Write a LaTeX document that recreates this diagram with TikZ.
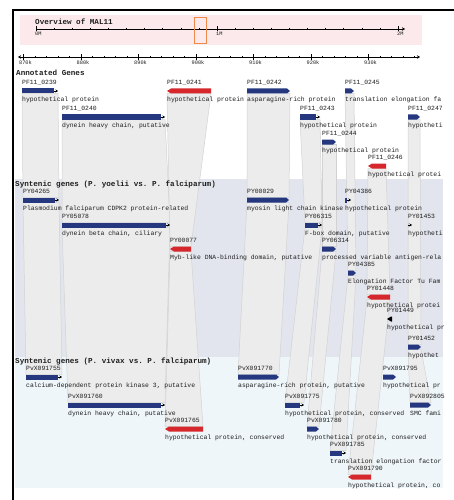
\documentclass[tikz,border=0pt]{standalone}
\usepackage{fontspec}
\setmonofont{Liberation Mono}
\usepackage{tikz}
\usetikzlibrary{arrows.meta}
\definecolor{GeneBlue}{HTML}{25387F}
\definecolor{GeneRed}{HTML}{D6282C}
\definecolor{OvPink}{HTML}{FBE9EC}
\definecolor{OvBox}{HTML}{F08A4B}
\definecolor{PyBack}{HTML}{E3E5EE}
\definecolor{PvBack}{HTML}{EFF6F9}
\definecolor{BandFill}{HTML}{ECECEC}
\definecolor{BandLine}{HTML}{D2D2D2}
\definecolor{TxtDark}{HTML}{1E1E1E}

\pgfdeclarelayer{back}
\pgfdeclarelayer{bands}
\pgfsetlayers{back,bands,main}

\newcommand\idfont{\fontsize{6.4}{7}\selectfont\ttfamily}
\newcommand\headfont{\fontsize{7.6}{8}\selectfont\ttfamily\bfseries}
\newcommand\tickfont{\fontsize{5.3}{6}\selectfont\ttfamily}

\tikzset{
  genebox/.style={inner sep=0pt,outer sep=0pt,minimum height=5pt,anchor=west},
  geneid/.style={font=\idfont,text=TxtDark,inner sep=0pt},
  genedesc/.style={font=\idfont,text=TxtDark,inner sep=0pt},
  heading/.style={font=\headfont,text=TxtDark,inner sep=0pt,anchor=west},
  ticklbl/.style={font=\tickfont,text=TxtDark,inner sep=0pt},
  band/.style={fill=BandFill,draw=BandLine,line width=.5pt},
}

% id above the bar, description below
\newcommand\genetext[3]{%
  \node[geneid,anchor=base west] (#1-id) at ([yshift=3.9pt]#1.north west) {#2};
  \node[genedesc,anchor=base west] (#1-desc) at ([yshift=-8pt]#1.south west) {#3};}
% plus strand, small black arrow past the bar
\newcommand\fwdgene[6]{%
  \node[genebox,minimum width={#3-#2}] (#1) at (#2,#4) {};
  \fill[GeneBlue] (#1.north west) rectangle ([xshift=-4pt]#1.south east);
  \draw[line width=.6pt,-{Stealth[length=2.5pt,width=3pt]}] ([xshift=-4.5pt]#1.east) -- (#1.east);
  \genetext{#1}{#5}{#6}}
% plus strand, pointed bar
\newcommand\tipgene[6]{%
  \node[genebox,minimum width={#3-#2}] (#1) at (#2,#4) {};
  \fill[GeneBlue] (#1.north west) -- ([xshift=-3pt]#1.north east) -- (#1.east)
    -- ([xshift=-3pt]#1.south east) -- (#1.south west) -- cycle;
  \genetext{#1}{#5}{#6}}
% minus strand
\newcommand\revgene[7][GeneRed]{%
  \node[genebox,minimum width={#4-#3}] (#2) at (#3,#5) {};
  \fill[#1] (#2.west) -- ([xshift=4pt]#2.north west) -- (#2.north east)
    -- (#2.south east) -- ([xshift=4pt]#2.south west) -- cycle;
  \genetext{#2}{#6}{#7}}

\begin{document}
\begin{tikzpicture}[x=1pt,y=-1pt]
\path[use as bounding box] (0,0) rectangle (454,500);

\begin{pgfonlayer}{back}
\fill[OvPink] (20,15) rectangle (422,45);
\fill[PyBack] (15,179) rectangle (443,357);
\fill[PvBack] (15,357) rectangle (443,488);
\end{pgfonlayer}

% overview of the chromosome
\node[heading] (ovtitle) at (35,22) {Overview of MAL11};
\draw[line width=.6pt,-{Stealth[length=3pt,width=3.5pt]}] (36,29) -- (405,29);
\foreach \i in {0,...,20}
  \draw[line width=.5pt] (36+\i*18.1,27.8) -- ++(0,2.4);
\foreach \i/\t in {0/0M,10/1M,20/2M} {
  \draw[line width=.6pt] (36+\i*18.1,26.5) -- ++(0,5);
  \node[ticklbl,anchor=north west] (ov\t) at (35+\i*18.1,31.8) {\t};
}
\node[draw=OvBox,line width=.8pt,inner sep=0pt,minimum width=12pt,minimum height=26pt] (view) at (200,30) {};

% detail ruler
\draw[line width=.6pt,{Stealth[length=3pt,width=3.5pt]}-{Stealth[length=3pt,width=3.5pt]}] (18,57) -- (420,57);
\foreach \k in {0,...,34}
  \draw[line width=.5pt] (23.5+\k*11.5,55.8) -- ++(0,2.4);
\foreach \k in {870,880,...,930} {
  \draw[line width=.6pt] (23.5+\k*5.75-5002.5,54) -- ++(0,6);
  \node[ticklbl,anchor=north] (kb\k) at (25.5+\k*5.75-5002.5,60.5) {\k k};
}

% tracks
\node[heading] (annot) at (16,73) {Annotated Genes};
\node[heading] (pyhead) at (15,184.5) {Syntenic genes (P. yoelii vs. P. falciparum)};
\node[heading] (pvhead) at (15,361.5) {Syntenic genes (P. vivax vs. P. falciparum)};

\fwdgene{g0239}{22}{58}{91}{PF11\_0239}{hypothetical protein}
\fwdgene{g0240}{62}{165}{117}{PF11\_0240}{dynein heavy chain, putative}
\revgene{g0241}{167}{211}{91}{PF11\_0241}{hypothetical protein}
\tipgene{g0242}{247}{290}{91}{PF11\_0242}{asparagine-rich protein}
\fwdgene{g0243}{300}{320}{117}{PF11\_0243}{hypothetical protein}
\tipgene{g0244}{322}{336}{142}{PF11\_0244}{hypothetical protein}
\tipgene{g0245}{345}{354}{91}{PF11\_0245}{translation elongation fa}
\revgene{g0246}{368}{386}{166}{PF11\_0246}{hypothetical protei}
\tipgene{g0247}{408}{420}{117}{PF11\_0247}{hypotheti}

\fwdgene{py04265}{23}{59}{200}{PY04265}{Plasmodium falciparum CDPK2 protein-related}
\fwdgene{py05078}{62}{170}{225}{PY05078}{dynein beta chain, ciliary}
\revgene{py00077}{170}{191}{249}{PY00077}{Myb-like DNA-binding domain, putative}
\tipgene{py00029}{247}{289}{200}{PY00029}{myosin light chain kinase}
\fwdgene{py04386}{345}{351}{200}{PY04386}{hypothetical protein}
\fwdgene{py06315}{305}{322}{225}{PY06315}{F-box domain, putative}
\fwdgene{py01453}{408}{412}{225}{PY01453}{hypotheti}
\tipgene{py06314}{322}{336}{249}{PY06314}{processed variable antigen-rela}
\tipgene{py04385}{348}{356}{273}{PY04385}{Elongation Factor Tu Fam}
\revgene{py01448}{367}{390}{297}{PY01448}{hypothetical protei}
\revgene[black]{py01449}{387}{392}{319}{PY01449}{hypothetical pr}
\tipgene{py01452}{408}{421}{347}{PY01452}{hypothet}

\fwdgene{pv091755}{26}{62}{377}{PvX091755}{calcium-dependent protein kinase 3, putative}
\fwdgene{pv091760}{68}{165}{405}{PvX091760}{dynein heavy chain, putative}
\revgene{pv091765}{165}{203}{429}{PvX091765}{hypothetical protein, conserved}
\tipgene{pv091770}{238}{279}{377}{PvX091770}{asparagine-rich protein, putative}
\tipgene{pv091795}{383}{396}{377}{PvX091795}{hypothetical pr}
\fwdgene{pv091775}{285}{304}{405}{PvX091775}{hypothetical protein, conserved}
\tipgene{pv092805}{410}{431}{405}{PvX092805}{SMC fami}
\tipgene{pv091780}{307}{319}{429}{PvX091780}{hypothetical protein, conserved}
\fwdgene{pv091785}{330}{346}{453}{PvX091785}{translation elongation factor}
\revgene{pv091790}{348}{371}{477}{PvX091790}{hypothetical protein, co}

% synteny bands
\begin{pgfonlayer}{bands}
\foreach \a/\b in {g0239/py04265,py04265/pv091755,g0240/py05078,py05078/pv091760,
    g0241/py00077,py00077/pv091765,g0242/py00029,py00029/pv091770,
    g0243/py06315,py06315/pv091775,g0244/py06314,py06314/pv091780,
    g0245/py04385,py04385/pv091785,g0246/py01448,py01448/pv091790,
    g0247/py01452,py01452/pv092805}
  \filldraw[band] (\a.south west) -- (\a.south east) -- (\b.north east) -- (\b.north west) -- cycle;
\end{pgfonlayer}

\draw[line width=2pt] (13,500) -- (13,10) -- (454,10);
\end{tikzpicture}
\end{document}
